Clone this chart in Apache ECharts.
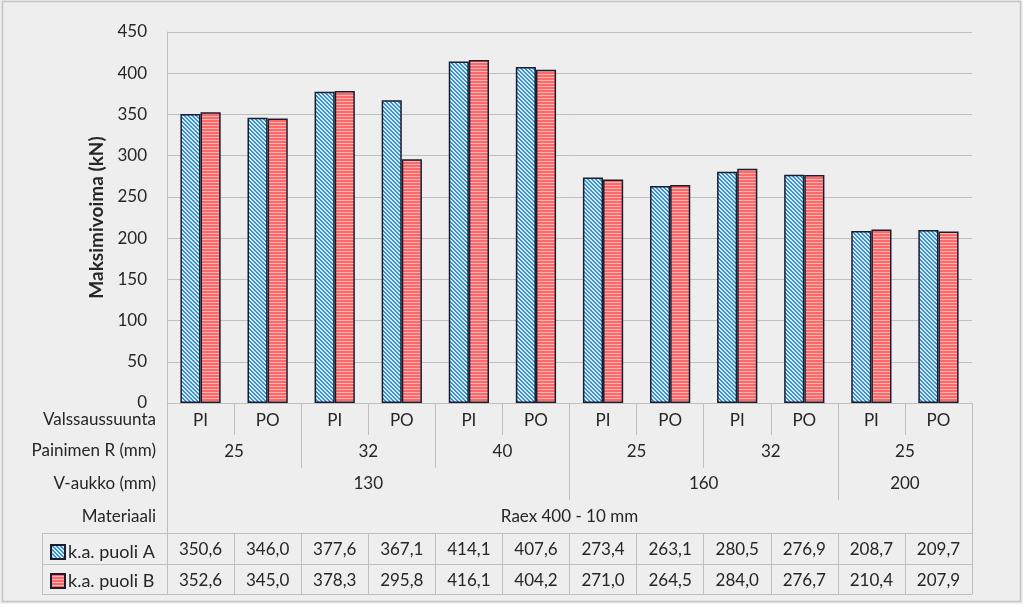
<!DOCTYPE html>
<html>
<head>
<meta charset="utf-8">
<script src="https://cdn.jsdelivr.net/npm/echarts@6/dist/echarts.min.js"></script>
<style>
html,body{margin:0;padding:0;background:#eeeeee;}
#chart{width:1023px;height:604px;}
</style>
</head>
<body>
<div id="chart"></div>
<script>
// ---- data ----
const direction = ['PI','PO','PI','PO','PI','PO','PI','PO','PI','PO','PI','PO'];
const radius = ['25','32','40','25','32','25'];
const vOpening = ['130','160','200'];
const vOpeningSpan = [6, 4, 2];
const material = ['Raex 400 - 10 mm'];
const rowTitles = ['Valssaussuunta','Painimen R (mm)','V-aukko (mm)','Materiaali'];
const seriesNames = ['k.a. puoli A','k.a. puoli B'];
const sideA = [350.6, 346.0, 377.6, 367.1, 414.1, 407.6, 273.4, 263.1, 280.5, 276.9, 208.7, 209.7];
const sideB = [352.6, 345.0, 378.3, 295.8, 416.1, 404.2, 271.0, 264.5, 284.0, 276.7, 210.4, 207.9];
const yTicks = [0, 50, 100, 150, 200, 250, 300, 350, 400, 450];

// ---- layout ----
const W = 1023, H = 604;
const G = {left: 167, right: 51, top: 32, bottom: 201};
const axisY = H - G.bottom; // 403
const FONT = 'Lato';
const TXT = '#262626';
const LINE = '#bfbfbf';
const FS = 17;

function fmt(v){ return v.toFixed(1).replace('.', ','); }

function makePattern(kind){
  const c = document.createElement('canvas');
  const ctx = c.getContext('2d');
  if (kind === 'diag') {
    c.width = 4; c.height = 4;
    for (let x = 0; x < 4; x++) for (let y = 0; y < 4; y++) {
      ctx.fillStyle = (((x - y) % 4 + 4) % 4) < 2 ? '#3a8fd0' : '#d4ebf8';
      ctx.fillRect(x, y, 1, 1);
    }
  } else {
    c.width = 3; c.height = 3;
    ctx.fillStyle = '#ff6868'; ctx.fillRect(0, 0, 3, 2);
    ctx.fillStyle = '#ffb4b4'; ctx.fillRect(0, 2, 3, 1);
  }
  return {image: c, repeat: 'repeat'};
}

// V-aukko boundaries and centers
const vBounds = [], vCenters = [];
let acc = 0;
vOpeningSpan.forEach(s => { vCenters.push(acc + s / 2); acc += s; vBounds.push(acc); });
vBounds.pop();

const chart = echarts.init(document.getElementById('chart'), null, {renderer: 'canvas'});

const labelBase = {color: TXT, fontFamily: FONT, fontSize: FS};

const option = {
  backgroundColor: '#eeeeee',
  animation: false,
  grid: {left: G.left, right: G.right, top: G.top, bottom: G.bottom, containLabel: false},
  legend: {
    orient: 'vertical', left: 45, top: 538, itemWidth: 14, itemHeight: 14, itemGap: 11,
    icon: 'rect',
    textStyle: {color: TXT, fontFamily: FONT, fontSize: 18, padding: [0, 0, 0, -2]},
    data: seriesNames
  },
  yAxis: {
    type: 'value', min: 0, max: 450, interval: 50,
    name: 'Maksimivoima (kN)', nameLocation: 'middle', nameRotate: 90, nameGap: 60,
    nameTextStyle: {color: TXT, fontFamily: FONT, fontSize: 19, fontWeight: 'bold'},
    axisLine: {show: true, lineStyle: {color: LINE}},
    axisTick: {show: false},
    axisLabel: Object.assign({margin: 20, formatter: v => yTicks.includes(v) ? String(v) : ''}, labelBase),
    splitLine: {lineStyle: {color: LINE, width: 1}}
  },
  xAxis: [
    { // row 1: direction
      type: 'category', data: direction, position: 'bottom',
      axisLine: {show: true, lineStyle: {color: LINE}},
      axisTick: {show: true, length: 32, lineStyle: {color: LINE}},
      axisLabel: Object.assign({margin: 9, interval: 0}, labelBase)
    },
    { // row 2: radius
      type: 'category', data: radius, position: 'bottom',
      axisLine: {show: false},
      axisTick: {show: true, length: 65, lineStyle: {color: LINE}},
      axisLabel: Object.assign({margin: 40, interval: 0}, labelBase)
    },
    { // row 3: V-opening
      type: 'value', min: 0, max: 12, position: 'bottom',
      axisLine: {show: false}, splitLine: {show: false},
      axisTick: {show: true, length: 97, lineStyle: {color: LINE}, customValues: vBounds},
      axisLabel: Object.assign({margin: 72, customValues: vCenters,
        formatter: v => vOpening[vCenters.indexOf(v)] || ''}, labelBase)
    },
    { // row 4: material
      type: 'category', data: material, position: 'bottom',
      axisLine: {show: false},
      axisTick: {show: true, length: 130, lineStyle: {color: LINE}},
      axisLabel: Object.assign({margin: 105, interval: 0}, labelBase)
    },
    { // table row A
      type: 'category', data: sideA.map(fmt), position: 'bottom', offset: 130,
      axisLine: {show: true, lineStyle: {color: LINE}},
      axisTick: {show: true, length: 61, lineStyle: {color: LINE}},
      axisLabel: Object.assign({margin: 8, interval: 0}, labelBase)
    },
    { // table row B
      type: 'category', data: sideB.map(fmt), position: 'bottom', offset: 161,
      axisLine: {show: true, lineStyle: {color: LINE}},
      axisTick: {show: false},
      axisLabel: Object.assign({margin: 8, interval: 0}, labelBase)
    },
    { // table bottom line
      type: 'category', data: direction, position: 'bottom', offset: 191,
      axisLine: {show: true, lineStyle: {color: LINE}},
      axisTick: {show: false}, axisLabel: {show: false}
    }
  ],
  series: [
    {
      name: seriesNames[0], type: 'bar', data: sideA, xAxisIndex: 0,
      barGap: '0%', barCategoryGap: '40%',
      itemStyle: {color: makePattern('diag'), borderColor: '#1a1d2e', borderWidth: 1.5}
    },
    {
      name: seriesNames[1], type: 'bar', data: sideB, xAxisIndex: 0,
      barGap: '0%', barCategoryGap: '40%',
      itemStyle: {color: makePattern('horiz'), borderColor: '#1a1d2e', borderWidth: 1.5}
    }
  ],
  graphic: []
};

// left part of table and row titles
const tableLeft = 42;
const tTop = axisY + 130, tMid = axisY + 161, tBot = axisY + 191;
const g = [];
[tTop, tMid, tBot].forEach(y => g.push({type: 'line', silent: true,
  shape: {x1: tableLeft, y1: y + 0.5, x2: G.left, y2: y + 0.5}, style: {stroke: LINE, lineWidth: 1}}));
g.push({type: 'line', silent: true, shape: {x1: tableLeft + 0.5, y1: tTop, x2: tableLeft + 0.5, y2: tBot + 1},
  style: {stroke: LINE, lineWidth: 1}});
const rowCenters = [420, 451, 484, 517];
rowTitles.forEach((t, i) => g.push({type: 'text', silent: true, x: 156, y: rowCenters[i],
  style: {text: t, fill: TXT, font: FS + 'px ' + FONT, align: 'right', verticalAlign: 'middle'}}));
// outer border
g.push({type: 'rect', silent: true, shape: {x: 2.5, y: 1.5, width: W - 5, height: H - 4},
  style: {fill: 'none', stroke: '#c4c4c4', lineWidth: 1.5}});
option.graphic = g;

chart.setOption(option);
</script>
</body>
</html>
